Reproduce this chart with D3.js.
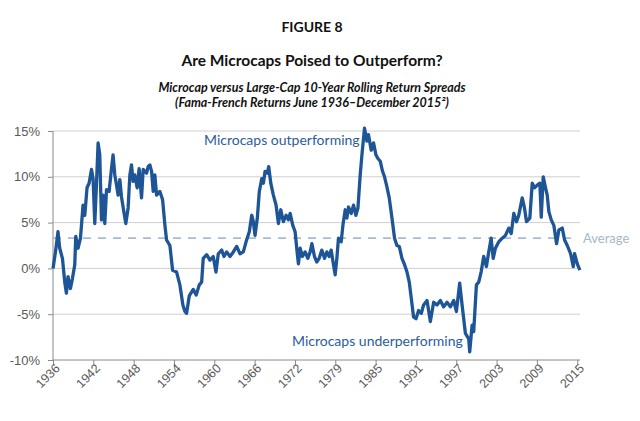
<!doctype html>
<html>
<head>
<meta charset="utf-8">
<style>
	body { margin: 0; background: #fff; }
	svg { display: block; font-family: Lato, "Open Sans", sans-serif; }
	.grid line { stroke: #cfcfcf; stroke-width: 1; }
	.axis text { fill: #595959; font-size: 13px; }
	.axis path, .axis line { stroke: #8a8a8a; }
</style>
</head>
<body>
<div id="chart"></div>
<script src="https://d3js.org/d3.v7.min.js"></script>
<script>
// decimal year of each sampled point (June 1936 .. December 2015)
var years = [
	1936.42, 1936.83, 1937.17, 1937.43, 1937.84, 1938.19, 1938.44, 1938.68, 1939.05, 1939.35,
	1939.70, 1939.85, 1940.19, 1940.56, 1940.95, 1941.21, 1941.55, 1941.86, 1942.22, 1942.46,
	1942.72, 1942.97, 1943.22, 1943.47, 1943.73, 1943.97, 1944.23, 1944.49, 1944.88, 1945.24,
	1945.48, 1945.74, 1946.00, 1946.24, 1946.50, 1946.75, 1947.10, 1947.40, 1947.75, 1948.01,
	1948.26, 1948.50, 1948.76, 1949.11, 1949.41, 1949.77, 1950.02, 1950.53, 1950.77, 1951.03,
	1951.29, 1951.53, 1951.78, 1952.04, 1952.54, 1952.95, 1953.30, 1953.55, 1954.05, 1954.46,
	1955.06, 1955.56, 1956.01, 1956.32, 1956.57, 1956.97, 1957.57, 1958.02, 1958.48, 1958.84,
	1959.08, 1959.60, 1960.09, 1960.59, 1961.00, 1961.35, 1961.86, 1962.21, 1962.62, 1963.12,
	1963.62, 1964.13, 1964.63, 1965.13, 1965.54, 1966.03, 1966.40, 1966.64, 1966.89, 1967.24,
	1967.54, 1967.91, 1968.15, 1968.41, 1968.75, 1968.96, 1969.27, 1969.66, 1970.07, 1970.42,
	1970.78, 1971.17, 1971.58, 1971.93, 1972.19, 1972.59, 1972.94, 1973.24, 1973.44, 1973.70,
	1974.04, 1974.45, 1974.86, 1975.21, 1975.47, 1975.86, 1976.22, 1976.57, 1976.97, 1977.37,
	1977.73, 1978.08, 1978.38, 1978.73, 1978.98, 1979.24, 1979.48, 1979.89, 1980.15, 1980.50,
	1980.75, 1981.00, 1981.40, 1981.75, 1982.11, 1982.42, 1982.76, 1983.02, 1983.26, 1983.41,
	1983.77, 1984.01, 1984.42, 1984.77, 1985.13, 1985.43, 1985.78, 1986.13, 1986.43, 1986.79,
	1987.14, 1987.55, 1987.94, 1988.30, 1988.65, 1989.06, 1989.45, 1989.82, 1990.16, 1990.47,
	1990.81, 1991.18, 1991.57, 1991.98, 1992.32, 1992.84, 1993.34, 1993.84, 1994.35, 1994.85,
	1995.35, 1995.86, 1996.36, 1996.86, 1997.27, 1997.77, 1998.13, 1998.63, 1999.13, 1999.28,
	1999.64, 1999.88, 2000.29, 2000.64, 2001.00, 2001.39, 2001.80, 2002.15, 2002.51, 2002.82,
	2003.16, 2003.66, 2004.18, 2004.67, 2005.17, 2005.54, 2005.93, 2006.34, 2006.68, 2007.20,
	2007.54, 2007.85, 2008.35, 2008.71, 2009.06, 2009.46, 2009.86, 2010.07, 2010.37, 2010.72,
	2010.97, 2011.22, 2011.58, 2011.97, 2012.38, 2012.73, 2013.24, 2013.59, 2014.00, 2014.50,
	2014.90, 2015.10, 2015.51, 2015.90
];
// microcap minus large-cap 10-year rolling return spread (%)
var spread = [
	0.0, 2.0, 4.0, 2.2, 1.1, -1.5, -2.7, -0.9, -2.2, -1.1,
	0.4, 3.5, 2.2, 3.3, 6.9, 5.8, 8.8, 9.3, 10.8, 9.8,
	4.9, 9.1, 13.7, 12.4, 5.3, 8.0, 4.9, 8.6, 8.4, 10.9,
	12.4, 10.2, 9.1, 8.0, 9.7, 7.8, 6.2, 4.9, 6.6, 10.2,
	11.3, 9.5, 10.2, 8.8, 10.9, 7.7, 10.8, 10.4, 11.1, 11.3,
	10.6, 8.4, 10.2, 8.0, 8.4, 7.5, 4.7, 3.1, 2.5, -0.2,
	-0.4, -1.8, -4.0, -4.7, -4.9, -3.0, -2.3, -2.9, -1.8, -1.5,
	1.1, 1.5, 0.9, 1.3, -0.4, 1.6, 2.0, 1.3, 1.8, 1.3,
	1.8, 2.4, 1.6, 1.8, 2.9, 4.0, 5.8, 5.1, 3.6, 5.5,
	8.4, 9.8, 9.3, 10.6, 10.4, 11.1, 9.3, 8.0, 6.9, 4.9,
	6.4, 5.1, 5.8, 5.3, 6.0, 4.7, 4.0, 1.8, 0.5, 2.2,
	1.3, 1.8, 1.1, 1.8, 2.7, 1.3, 0.7, 1.1, 2.0, 1.1,
	1.8, 1.3, 2.0, 0.4, -0.7, 1.1, 3.3, 2.9, 4.7, 6.4,
	5.5, 6.7, 6.0, 6.9, 5.8, 6.6, 10.2, 12.4, 14.2, 15.3,
	13.9, 14.6, 12.9, 13.7, 12.4, 12.0, 11.7, 10.6, 10.0, 8.9,
	7.7, 5.5, 3.3, 2.5, 2.4, 1.1, 0.4, -0.4, -1.5, -3.3,
	-5.3, -5.5, -4.6, -4.9, -4.0, -3.5, -5.8, -3.7, -4.0, -3.5,
	-4.2, -3.7, -4.2, -3.5, -4.7, -1.6, -4.0, -7.1, -7.7, -9.1,
	-6.2, -6.9, -1.8, -1.5, -0.4, 1.3, 0.2, 1.8, 3.3, 1.1,
	2.2, 2.9, 3.3, 3.6, 4.4, 3.8, 6.0, 5.1, 5.8, 7.7,
	6.6, 5.1, 5.5, 9.3, 8.8, 9.1, 9.3, 5.6, 10.0, 8.8,
	8.0, 6.2, 5.3, 4.7, 2.7, 4.2, 4.4, 3.1, 2.5, 1.6,
	0.2, 1.6, 0.5, -0.2
];
var average = 3.3;

// category axis: one label every 73 months, starting June 1936
var tickLabels = ['1936', '1942', '1948', '1954', '1960', '1966', '1972', '1979', '1985', '1991', '1997', '2003', '2009', '2015'];
var yTicks = [-10, -5, 0, 5, 10, 15];

var W = 640, H = 421;
var margin = { top: 131, right: 60, bottom: 61, left: 53 };

var svg = d3.select('#chart').append('svg')
	.attr('width', W)
	.attr('height', H);

// titles
svg.append('text')
	.attr('x', 312).attr('y', 32)
	.attr('text-anchor', 'middle')
	.style('font-size', '14px').style('font-weight', 'bold').style('fill', '#111')
	.text('FIGURE 8');
svg.append('text')
	.attr('x', 312).attr('y', 66)
	.attr('text-anchor', 'middle')
	.style('font-size', '15.5px').style('font-weight', 'bold').style('fill', '#111')
	.text('Are Microcaps Poised to Outperform?');
svg.append('text')
	.attr('x', 312).attr('y', 92)
	.attr('text-anchor', 'middle')
	.style('font-size', '12.5px').style('font-weight', 'bold').style('font-style', 'italic').style('fill', '#111')
	.text('Microcap versus Large-Cap 10-Year Rolling Return Spreads');
svg.append('text')
	.attr('x', 312).attr('y', 107)
	.attr('text-anchor', 'middle')
	.style('font-size', '12.5px').style('font-weight', 'bold').style('font-style', 'italic').style('fill', '#111')
	.text('(Fama-French Returns June 1936\u2013December 2015\u00b2)');

var x = d3.scaleLinear()
	.domain([1936 + 5 / 12, 2015 + 11 / 12])
	.range([margin.left, W - margin.right]);
var y = d3.scaleLinear()
	.domain([-10, 15])
	.range([H - margin.bottom, margin.top]);

var tickYears = tickLabels.map(function(d, i) { return 1936 + (5 + 73 * i) / 12; });

// gridlines
svg.append('g').attr('class', 'grid')
	.selectAll('line')
	.data(yTicks.filter(function(d) { return d > -10; }))
	.enter().append('line')
	.attr('x1', x.range()[0]).attr('x2', x.range()[1])
	.attr('y1', function(d) { return y(d); })
	.attr('y2', function(d) { return y(d); });

// y axis
var yAxis = svg.append('g').attr('class', 'axis')
	.attr('transform', 'translate(' + margin.left + ',0)')
	.call(d3.axisLeft(y).tickValues(yTicks).tickSize(5).tickPadding(8)
		.tickFormat(function(d) { return d + '%'; }));
yAxis.select('.domain').attr('d', 'M0,' + y(15) + 'V' + y(-10));

// x axis
var xAxis = svg.append('g').attr('class', 'axis')
	.attr('transform', 'translate(0,' + y(-10) + ')')
	.call(d3.axisBottom(x).tickValues(tickYears).tickSize(5)
		.tickFormat(function(d, i) { return tickLabels[i]; }));
xAxis.select('.domain').attr('d', 'M' + x.range()[0] + ',0H' + x.range()[1]);
xAxis.selectAll('text')
	.attr('text-anchor', 'end')
	.attr('dy', '0.35em')
	.attr('transform', 'translate(4,6) rotate(-45)')
	.attr('y', 0).attr('x', 0)
	.style('font-size', '12.5px');

// average
svg.append('line')
	.attr('x1', x.range()[0]).attr('x2', x(2015.5))
	.attr('y1', y(average)).attr('y2', y(average))
	.style('stroke', '#a9bbd3').style('stroke-width', 1.6)
	.style('stroke-dasharray', '8,7');
svg.append('text')
	.attr('x', x.range()[1] + 3).attr('y', y(average))
	.attr('dy', '0.35em')
	.style('font-size', '13px').style('fill', '#a9b7c9')
	.text('Average');

// spread line
var pts = years.map(function(d, i) { return [d, spread[i]]; });
var line = d3.line()
	.x(function(d) { return x(d[0]); })
	.y(function(d) { return y(d[1]); });
svg.append('path')
	.datum(pts)
	.attr('d', line)
	.style('fill', 'none')
	.style('stroke', '#1d5597')
	.style('stroke-width', 3.3)
	.style('stroke-linejoin', 'round');

// annotations
svg.append('text')
	.attr('x', 204).attr('y', 145)
	.style('font-size', '14px').style('fill', '#2b5d9b')
	.text('Microcaps outperforming');
svg.append('text')
	.attr('x', 292).attr('y', 346)
	.style('font-size', '14px').style('fill', '#2b5d9b')
	.text('Microcaps underperforming');
</script>
</body>
</html>
